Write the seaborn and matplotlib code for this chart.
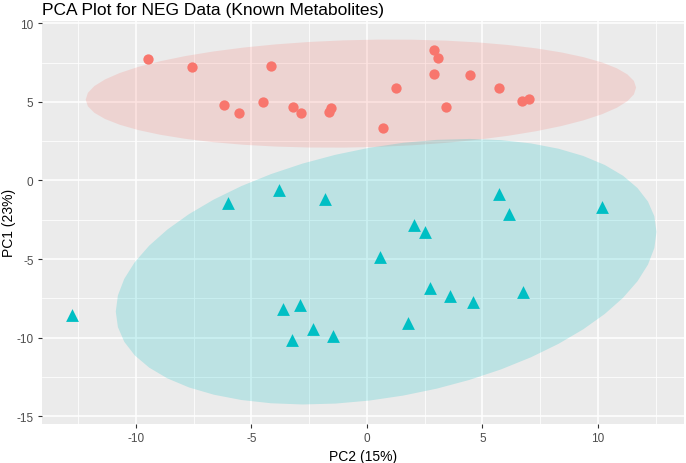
import numpy as np
import pandas as pd
import matplotlib
matplotlib.use("Agg")
import matplotlib.pyplot as plt
import seaborn as sns

# scores
grp_a_pc2 = [-9.47, -7.56, -6.18, -5.54, -4.50, -4.14, -3.20, -2.86, -1.65, -1.55,
             2.91, 3.09, 2.91, 4.47, 1.27, 5.73, 3.42, 6.71, 7.03, 0.71]
grp_a_pc1 = [7.72, 7.21, 4.79, 4.28, 4.98, 7.27, 4.66, 4.28, 4.34, 4.64,
             8.29, 7.78, 6.76, 6.70, 5.87, 5.87, 4.66, 5.04, 5.19, 3.34]

grp_b_pc2 = [-6.00, -3.80, -1.81, -12.78, -3.65, -2.90, -2.32, -3.26, -1.46,
             5.71, 6.16, 10.16, 2.03, 2.51, 0.56, 2.73, 3.59, 4.57, 6.74, 1.76]
grp_b_pc1 = [-1.43, -0.61, -1.18, -8.57, -8.18, -7.93, -9.46, -10.16, -9.90,
             -0.86, -2.13, -1.71, -2.83, -3.30, -4.85, -6.85, -7.36, -7.72, -7.12, -9.10]

groups = ["A", "B"]
colors = {"A": "#F8766D", "B": "#00BFC4"}

df = pd.DataFrame({
    "PC2": grp_a_pc2 + grp_b_pc2,
    "PC1": grp_a_pc1 + grp_b_pc1,
    "group": ["A"] * len(grp_a_pc2) + ["B"] * len(grp_b_pc2),
})


def cov_trob(x, nu=5, maxit=25, tol=0.01):
    # port of MASS::cov.trob (multivariate t fit)
    n, p = x.shape
    loc = x.mean(axis=0)
    w = np.ones(n)
    for _ in range(maxit):
        w0 = w
        X = x - loc
        _, d, vt = np.linalg.svd(np.sqrt(w / w.sum())[:, None] * X, full_matrices=False)
        wX = X @ vt.T @ np.diag(1 / d)
        Q = (wX ** 2).sum(axis=1)
        w = (nu + p) / (nu + Q)
        loc = (w[:, None] * x).sum(axis=0) / w.sum()
        if np.all(np.abs(w - w0) < tol):
            break
    cov = (np.sqrt(w)[:, None] * X).T @ (np.sqrt(w)[:, None] * X) / n
    return loc, cov


def t_ellipse(x, y, level=0.95, segments=51):
    # same idea as ggplot2 stat_ellipse(type = "t")
    pts = np.column_stack([x, y])
    center, shape = cov_trob(pts)
    d = len(pts) - 1
    fq = d / 2 * ((1 - level) ** (-2 / d) - 1)  # qf(level, 2, d)
    radius = np.sqrt(2 * fq)
    ang = np.linspace(0, 2 * np.pi, segments)
    circ = np.column_stack([np.cos(ang), np.sin(ang)])
    chol = np.linalg.cholesky(shape).T
    return center + radius * circ @ chol


plt.rcParams["font.family"] = ["Liberation Sans", "DejaVu Sans"]
plt.rcParams["axes.unicode_minus"] = False
fig, ax = plt.subplots(figsize=(6.86, 4.64), dpi=100)
fig.subplots_adjust(left=0.061, right=0.997, top=0.953, bottom=0.084)

ax.set_facecolor("#EBEBEB")
for s in ax.spines.values():
    s.set_visible(False)

ax.set_xlim(-14.07, 13.72)
ax.set_ylim(-15.5, 10.16)
ax.set_xticks([-10, -5, 0, 5, 10])
ax.set_yticks([-15, -10, -5, 0, 5, 10])
ax.set_xticks(np.arange(-12.5, 13, 5), minor=True)
ax.set_yticks(np.arange(-12.5, 10, 5), minor=True)
ax.grid(which="major", color="white", linewidth=1.1)
ax.grid(which="minor", color="white", linewidth=0.55)
ax.set_axisbelow(True)
ax.tick_params(which="major", length=3, color="#333333", labelsize=8.5,
               labelcolor="#4D4D4D", pad=3)
ax.tick_params(which="minor", length=0)

for g in groups:
    sub = df[df.group == g]
    e = t_ellipse(sub.PC2.values, sub.PC1.values)
    ax.fill(e[:, 0], e[:, 1], color=colors[g], alpha=0.2, linewidth=0, zorder=2)

sns.scatterplot(data=df[df.group == "A"], x="PC2", y="PC1", color=colors["A"],
                marker="o", s=55, linewidth=0, ax=ax, zorder=3)
sns.scatterplot(data=df[df.group == "B"], x="PC2", y="PC1", color=colors["B"],
                marker="^", s=85, linewidth=0, ax=ax, zorder=3)

ax.set_xlabel("PC2 (15%)", fontsize=10, labelpad=3)
ax.set_ylabel("PC1 (23%)", fontsize=10)
ax.yaxis.set_label_coords(-0.041, 0.5)
ax.set_title("PCA Plot for NEG Data (Known Metabolites)", fontsize=12.5,
             loc="left", pad=5)

fig.savefig("out.png", dpi=100)
